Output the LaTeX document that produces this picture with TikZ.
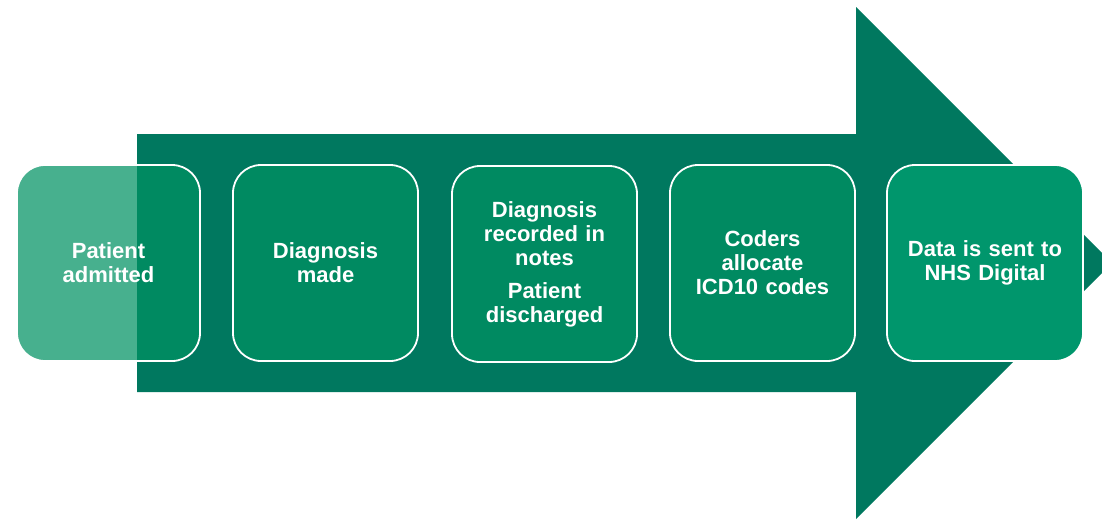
\documentclass[tikz,border=0pt]{standalone}
\usepackage{fontspec}
\setmainfont{Liberation Sans}
\definecolor{arrowgreen}{RGB}{0,120,95}
\definecolor{boxgreen}{RGB}{0,145,99}
\definecolor{lastgreen}{RGB}{0,150,108}
\begin{document}
\begin{tikzpicture}[x=1pt,y=-1pt,
  stepbox/.style={draw=white, line width=1.8pt, rounded corners=28pt,
    minimum width=185pt, minimum height=196pt, text width=175pt,
    align=center, inner sep=0pt, text=white,
    font=\bfseries\fontsize{22}{24}\selectfont},
  seebox/.style={stepbox, fill=boxgreen, fill opacity=0.72, text opacity=1},
  lastbox/.style={stepbox, fill=lastgreen, minimum width=196pt}]
\useasboundingbox (0,0) rectangle (1102,520);
\clip (0,0) rectangle (1102,520);
% big arrow
\fill[arrowgreen] (137,134) -- (856,134) -- (856,7) -- (1112,263)
  -- (856,519) -- (856,392) -- (137,392) -- cycle;
% steps
\node[seebox, minimum width=183pt] (s1) at (108.5,263) {Patient\\admitted};
\node[seebox] (s2) at (325.5,263) {Diagnosis\\made};
\node[seebox] (s3) at (544.5,264) {Diagnosis\\recorded in\\notes\\[9pt]Patient\\discharged};
\node[seebox] (s4) at (762.5,263) {Coders\\allocate\\ICD10 codes};
\node[lastbox] (s5) at (985,263) {Data is sent to\\NHS Digital};
\end{tikzpicture}
\end{document}
